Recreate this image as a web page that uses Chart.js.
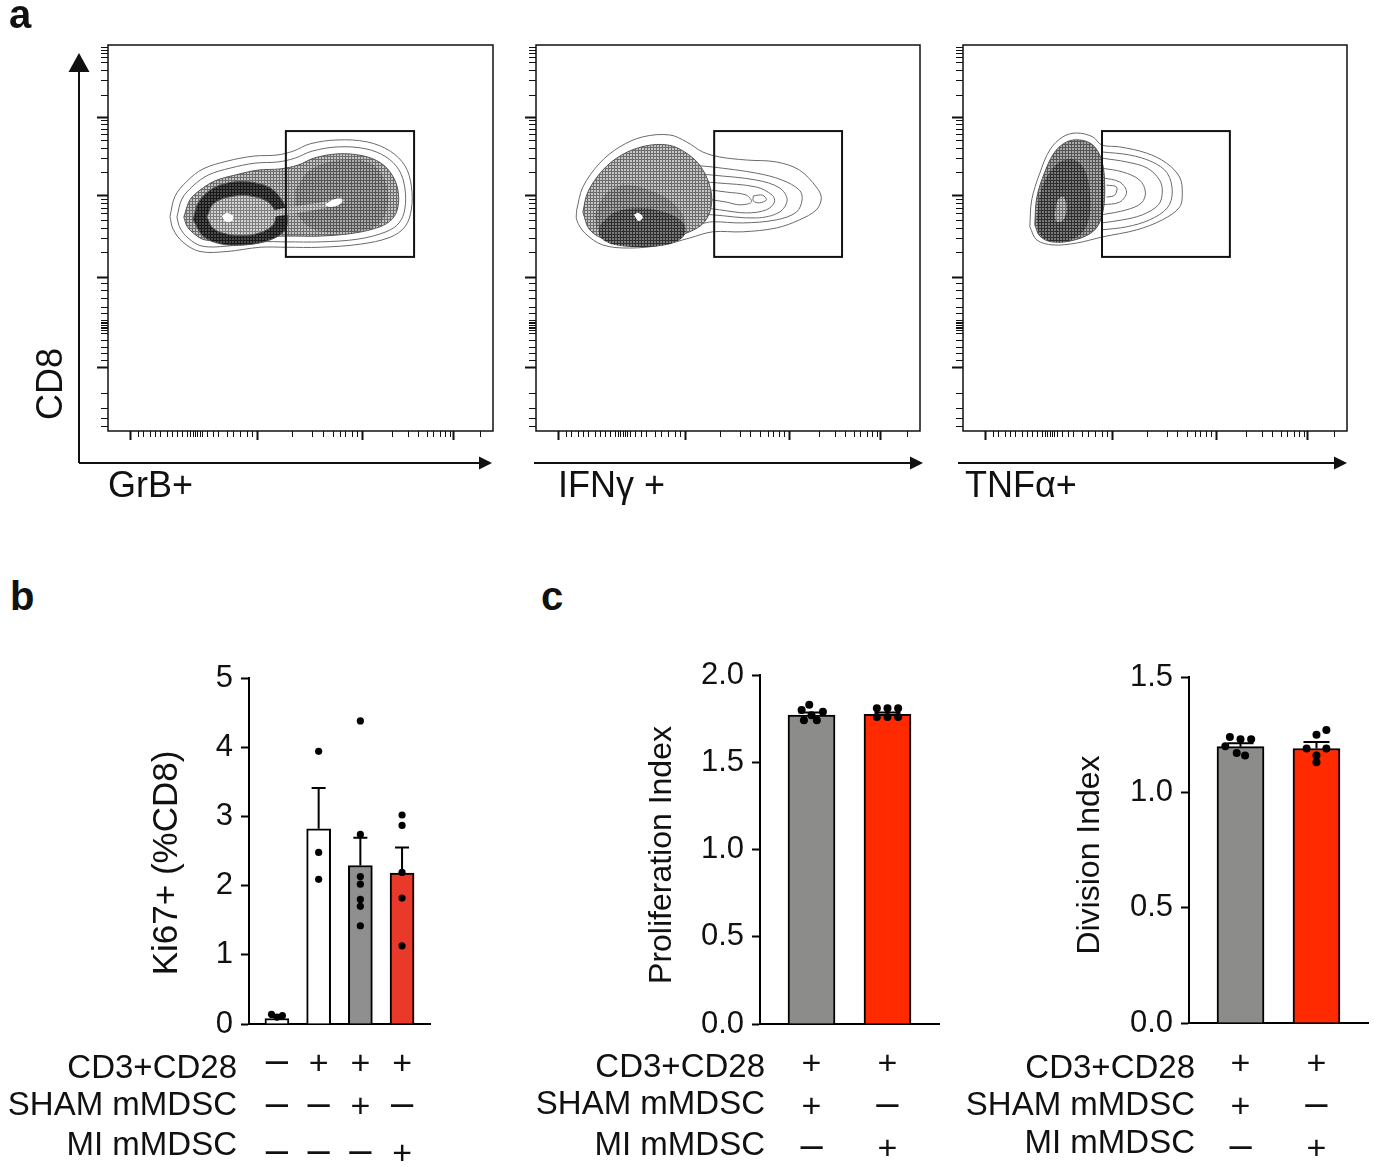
<!DOCTYPE html>
<html>
<head>
<meta charset="utf-8">
<script src="https://cdn.jsdelivr.net/npm/chart.js@4.4.1/dist/chart.umd.min.js"></script>
<style>
  body { margin: 0; background: #fff; }
  #page { position: relative; width: 1374px; height: 1167px; overflow: hidden; background: #fff;
          font-family: 'Liberation Sans', Arial, Helvetica, sans-serif; }
  canvas { position: absolute; }
  .panel { position: absolute; font-weight: bold; font-size: 40px; line-height: 1; color: #111; }
</style>
</head>
<body>
<div id="page">
  <canvas id="flowGrb" width="500" height="510" style="left:0;top:0"></canvas>
  <canvas id="flowIfn" width="430" height="510" style="left:500px;top:0"></canvas>
  <canvas id="flowTnf" width="444" height="510" style="left:930px;top:0"></canvas>
  <canvas id="kiChart" width="460" height="527" style="left:0;top:640px"></canvas>
  <canvas id="prolifChart" width="420" height="527" style="left:530px;top:640px"></canvas>
  <canvas id="divChart" width="424" height="527" style="left:950px;top:640px"></canvas>
  <div class="panel" style="left:9px;top:-6px">a</div>
  <div class="panel" style="left:10px;top:576px">b</div>
  <div class="panel" style="left:541px;top:576px">c</div>
</div>
<script>
// ---- flow plots (channel units 0..1000 on both axes) ----
// tick marks of the biexponential axes
const flowYMajor = [167, 400, 611, 814];
const flowYMinor = [13, 34, 60, 98, 184, 202, 218, 236, 254, 262, 267, 269, 275, 280, 282, 288, 306, 321, 345, 365, 383,
                    463, 501, 527, 547, 564, 578, 591, 601, 672, 708, 733, 753, 769, 783, 795, 805,
                    870, 909, 935, 956, 969, 979, 987, 995];
const flowXMajor = [57, 387, 660, 896];
const flowXMinor = [78, 91, 109, 122, 135, 153, 166, 179, 192, 205, 213, 220, 226, 232, 238, 244, 257, 273, 286, 309,
                    325, 343, 361, 374, 478, 530, 558, 584, 603, 616, 634, 647, 738, 779, 805, 829, 844, 862, 875, 888, 966];

// gates
const flowGateY = [451, 777];
const grbGateX = [462, 795];
const ifnGateX = [464, 797];
const tnfGateX = [362, 695];

// GrB contours
const grbOuter = [[161,556],[174,608],[205,647],[247,679],[309,699],[377,712],[439,715],[481,725],[525,744],[595,754],[673,749],[733,725],[772,686],[788,634],[788,575],[772,530],[733,502],[655,484],[551,476],[465,476],[395,476],[309,465],[239,465],[195,489],[169,523]];
const grbRing = [[179,554],[192,601],[221,635],[260,663],[317,681],[382,694],[441,697],[486,707],[530,725],[597,736],[670,731],[722,710],[756,676],[771,630],[771,575],[756,539],[722,516],[649,497],[551,490],[465,490],[395,490],[309,479],[244,479],[208,500],[187,526]];
const grbDense = [[197,554],[213,599],[239,624],[278,648],[330,663],[390,676],[447,679],[494,689],[535,707],[597,718],[662,713],[709,694],[738,663],[753,624],[753,580],[738,549],[706,529],[641,513],[551,505],[465,505],[395,503],[312,495],[252,495],[221,513],[205,531]];
const grbRightLobe = [[486,624],[525,676],[603,702],[680,694],[719,650],[727,586],[701,534],[628,516],[538,521],[493,560]];
const grbLobe = [[221,547],[234,591],[265,624],[312,643],[369,645],[421,630],[452,598],[465,560],[460,521],[421,495],[356,482],[291,485],[247,505]];
const grbLobeInner = [[257,554],[273,588],[312,606],[369,609],[416,593],[436,562],[426,531],[382,510],[322,508],[275,523]];
const grbStreak = [[400,565],[473,580],[551,592],[603,602],[614,594],[577,581],[499,566],[421,556]];
const grbCoreL = [[296,557],[309,565],[325,557],[322,544],[306,542]];
const grbCoreR = [[564,586],[584,599],[608,601],[603,588],[577,580]];

// IFNg contours
const ifnOuter = [[106,573],[122,632],[166,694],[218,736],[278,762],[348,767],[392,749],[434,723],[478,710],[548,702],[626,697],[686,676],[730,632],[743,604],[730,573],[686,547],[626,526],[538,516],[460,516],[400,500],[330,482],[244,474],[174,482],[127,513],[106,547]];
const ifnRing2 = [[426,687],[460,684],[574,668],[641,650],[686,624],[693,599],[678,567],[626,547],[538,539],[460,542],[426,536]];
const ifnRing3 = [[426,666],[460,663],[574,650],[634,630],[654,599],[634,567],[574,552],[460,560],[426,562]];
const ifnRing4 = [[439,645],[470,643],[574,632],[615,611],[621,593],[600,573],[548,565],[478,573],[439,578]];
const ifnRing5 = [[457,624],[496,619],[548,611],[561,593],[530,586],[496,593],[457,599]];
const ifnInner = [[566,609],[590,611],[600,599],[582,591],[566,596]];
const ifnBlob = [[122,567],[135,619],[174,676],[223,715],[283,738],[343,741],[387,723],[426,689],[452,637],[457,586],[439,542],[400,516],[330,495],[249,487],[184,495],[140,521]];
const ifnMid = [[153,560],[179,611],[231,637],[296,624],[348,598],[382,560],[387,521],[348,492],[270,482],[197,495],[161,521]];
const ifnDark = [[166,534],[205,567],[270,578],[335,567],[382,541],[387,508],[348,484],[270,477],[197,484],[166,505]];
const ifnCore = [[255,560],[267,565],[278,554],[267,544]];

// TNFa contours
const tnfOuter = [[174,529],[179,599],[200,668],[226,728],[260,762],[296,772],[338,762],[361,741],[408,736],[478,720],[530,694],[564,658],[571,619],[564,580],[519,547],[452,521],[364,503],[296,487],[234,482],[192,495]];
const tnfRing2 = [[361,723],[434,715],[493,697],[532,668],[545,619],[532,578],[486,547],[426,529],[361,521]];
const tnfRing3 = [[361,707],[426,697],[480,681],[512,650],[519,619],[509,586],[467,560],[416,547],[361,539]];
const tnfRing4 = [[361,681],[416,671],[460,650],[475,619],[465,591],[426,573],[361,560]];
const tnfRing5 = [[364,656],[408,645],[426,619],[408,593],[364,586]];
const tnfRing6 = [[374,637],[400,632],[395,611],[374,606]];
const tnfBlob = [[187,534],[192,604],[213,671],[239,723],[270,749],[304,754],[338,741],[361,702],[369,637],[364,567],[343,521],[291,495],[231,490],[200,505]];
const tnfDark = [[192,547],[200,611],[221,663],[252,697],[291,702],[317,676],[330,624],[330,560],[312,516],[265,490],[218,495],[197,516]];
const tnfCore = [[239,560],[247,599],[262,606],[270,580],[262,547],[244,542]];

// ---- bar panels ----
const conditionLabels = ['CD3+CD28', 'SHAM mMDSC', 'MI mMDSC'];

const kiMeans = [0.08, 2.82, 2.29, 2.18];
const kiSem = [0.02, 0.59, 0.40, 0.37];
const kiPoints = [[0.14, 0.12, 0.10], [3.94, 2.48, 2.09], [4.38, 2.74, 2.13, 2.02, 1.80, 1.70, 1.42], [3.02, 2.87, 2.19, 1.82, 1.13]];
const kiConditions = [['-', '+', '+', '+'], ['-', '-', '+', '-'], ['-', '-', '-', '+']];

const prolifMeans = [1.77, 1.775];
const prolifSem = [0.015, 0.01];
const prolifPoints = [[1.83, 1.80, 1.79, 1.77, 1.74, 1.74], [1.81, 1.81, 1.81, 1.76, 1.76, 1.76]];

const divisionMeans = [1.198, 1.19];
const divisionSem = [0.015, 0.028];
const divisionPoints = [[1.24, 1.23, 1.23, 1.20, 1.17, 1.16], [1.25, 1.27, 1.19, 1.19, 1.16, 1.13]];

const cConditions = [['+', '+'], ['+', '-'], ['-', '+']];

const FONT = "'Liberation Sans', Arial, Helvetica, sans-serif";
Chart.defaults.font.family = FONT;
Chart.defaults.color = '#111';

function hatch(bg, fg, step) {
    const c = document.createElement('canvas');
    c.width = c.height = step;
    const g = c.getContext('2d');
    g.fillStyle = bg;
    g.fillRect(0, 0, step, step);
    g.fillStyle = fg;
    g.fillRect(0, 0, step, 1);
    g.fillRect(0, 0, 1, step);
    return g.createPattern(c, 'repeat');
}

// contour-density textures
const shade = {
    soft: hatch('#c6c6c6', '#6c6c6c', 3),
    dense: hatch('#a8a8a8', '#555555', 3),
    mid: hatch('#7a7a7a', '#2e2e2e', 3),
    dark: hatch('#4c4c4c', '#181818', 3),
    light: hatch('#d2d2d2', '#7e7e7e', 3),
    white: '#ffffff'
};

function flowDecor(o) {
    return {
        id: 'flowDecor',
        afterDraw(chart) {
            const { ctx, chartArea: a, scales: { x, y } } = chart;
            ctx.save();
            ctx.strokeStyle = '#111';
            ctx.fillStyle = '#111';

            ctx.lineWidth = 1.5;
            ctx.strokeRect(a.left, a.top, a.right - a.left, a.bottom - a.top);

            // gate
            ctx.lineWidth = 2;
            const gx0 = x.getPixelForValue(o.gateX[0]), gx1 = x.getPixelForValue(o.gateX[1]);
            const gy0 = y.getPixelForValue(flowGateY[1]), gy1 = y.getPixelForValue(flowGateY[0]);
            ctx.strokeRect(gx0, gy0, gx1 - gx0, gy1 - gy0);

            // axis ticks
            [[flowYMajor, 11, 2], [flowYMinor, 7, 1]].forEach(([vals, len, w]) => {
                ctx.lineWidth = w;
                ctx.beginPath();
                vals.forEach(v => {
                    const p = Math.round(y.getPixelForValue(v)) + 0.5;
                    ctx.moveTo(a.left, p);
                    ctx.lineTo(a.left - len, p);
                });
                ctx.stroke();
            });
            [[flowXMajor, 9, 2], [flowXMinor, 6, 1]].forEach(([vals, len, w]) => {
                ctx.lineWidth = w;
                ctx.beginPath();
                vals.forEach(v => {
                    const p = Math.round(x.getPixelForValue(v)) + 0.5;
                    ctx.moveTo(p, a.bottom);
                    ctx.lineTo(p, a.bottom + len);
                });
                ctx.stroke();
            });

            // arrows
            const ay = a.bottom + 32;
            const tip = a.right + o.arrowTo;
            ctx.lineWidth = 2;
            ctx.beginPath();
            ctx.moveTo(a.left + o.arrowFrom, ay);
            ctx.lineTo(tip - 10, ay);
            ctx.stroke();
            ctx.beginPath();
            ctx.moveTo(tip, ay);
            ctx.lineTo(tip - 13, ay - 6.5);
            ctx.lineTo(tip - 13, ay + 6.5);
            ctx.closePath();
            ctx.fill();
            if (o.yArrow) {
                const ax = a.left - 29;
                ctx.beginPath();
                ctx.moveTo(ax, ay);
                ctx.lineTo(ax, a.top + 22);
                ctx.stroke();
                ctx.beginPath();
                ctx.moveTo(ax, a.top + 8);
                ctx.lineTo(ax - 10.5, a.top + 27);
                ctx.lineTo(ax + 10.5, a.top + 27);
                ctx.closePath();
                ctx.fill();
            }

            // labels
            ctx.font = '36px ' + FONT;
            ctx.textAlign = 'left';
            ctx.textBaseline = 'alphabetic';
            ctx.fillText(o.xLabel, a.left + o.xLabelDx, a.bottom + 66);
            if (o.yLabel) {
                ctx.translate(o.yLabelX, o.yLabelY);
                ctx.rotate(-Math.PI / 2);
                ctx.textAlign = 'center';
                ctx.textBaseline = 'middle';
                ctx.fillText(o.yLabel, 0, 0);
            }
            ctx.restore();
        }
    };
}

function flowPlot(id, layers, o) {
    new Chart(document.getElementById(id), {
        type: 'line',
        data: {
            datasets: layers.map((l, i) => {
                const pts = l.closed ? l.pts.concat([l.pts[0]]) : l.pts;
                return {
                    data: pts.map(p => ({ x: p[0], y: p[1] })),
                    borderColor: l.noLine ? 'rgba(0,0,0,0)' : (l.fill ? '#555' : '#6a6a6a'),
                    borderWidth: 1,
                    backgroundColor: l.fill ? shade[l.fill] : 'rgba(0,0,0,0)',
                    fill: l.fill ? 'shape' : false,
                    tension: 0.35,
                    pointRadius: 0,
                    order: layers.length - i
                };
            })
        },
        options: {
            responsive: false,
            animation: false,
            events: [],
            layout: { padding: o.pad },
            scales: {
                x: { type: 'linear', min: 0, max: 1000, display: false },
                y: { type: 'linear', min: 0, max: 1000, display: false }
            },
            plugins: { legend: { display: false }, tooltip: { enabled: false } }
        },
        plugins: [flowDecor(o)]
    });
}

flowPlot('flowGrb', [
    { pts: grbOuter, closed: true },
    { pts: grbRing, closed: true },
    { pts: grbDense, closed: true, fill: 'soft' },
    { pts: grbRightLobe, closed: true, fill: 'dense', noLine: true },
    { pts: grbLobe, closed: true, fill: 'dark' },
    { pts: grbLobeInner, closed: true, fill: 'light' },
    { pts: grbStreak, closed: true, fill: 'light', noLine: true },
    { pts: grbCoreL, closed: true, fill: 'white', noLine: true },
    { pts: grbCoreR, closed: true, fill: 'white', noLine: true }
], { pad: { left: 108, right: 7, top: 45, bottom: 79 }, gateX: grbGateX, xLabel: 'GrB+', xLabelDx: 0,
     arrowFrom: -29, arrowTo: -1, yArrow: true, yLabel: 'CD8', yLabelX: 52, yLabelY: 384 });

flowPlot('flowIfn', [
    { pts: ifnOuter, closed: true },
    { pts: ifnRing2 }, { pts: ifnRing3 }, { pts: ifnRing4 }, { pts: ifnRing5 },
    { pts: ifnInner, closed: true },
    { pts: ifnBlob, closed: true, fill: 'soft' },
    { pts: ifnMid, closed: true, fill: 'dense', noLine: true },
    { pts: ifnDark, closed: true, fill: 'mid', noLine: true },
    { pts: ifnCore, closed: true, fill: 'white', noLine: true }
], { pad: { left: 36, right: 10, top: 45, bottom: 79 }, gateX: ifnGateX, xLabel: 'IFN\u03B3 +', xLabelDx: 22,
     arrowFrom: -2, arrowTo: 3 });

flowPlot('flowTnf', [
    { pts: tnfOuter, closed: true },
    { pts: tnfRing2 }, { pts: tnfRing3 }, { pts: tnfRing4 }, { pts: tnfRing5 }, { pts: tnfRing6 },
    { pts: tnfBlob, closed: true, fill: 'dense' },
    { pts: tnfDark, closed: true, fill: 'mid', noLine: true },
    { pts: tnfCore, closed: true, fill: 'soft', noLine: true }
], { pad: { left: 33, right: 27, top: 45, bottom: 79 }, gateX: tnfGateX, xLabel: 'TNF\u03B1+', xLabelDx: 2,
     arrowFrom: -5, arrowTo: 0 });

// ---- bar panels ----
function barDecor(o) {
    return {
        id: 'barDecor',
        afterDatasetsDraw(chart) {
            const { ctx, scales: { x, y } } = chart;
            ctx.save();
            ctx.strokeStyle = '#000';
            ctx.lineWidth = 2;
            o.means.forEach((m, i) => {
                const px = x.getPixelForValue(i);
                const y0 = y.getPixelForValue(m), y1 = y.getPixelForValue(m + o.sem[i]);
                ctx.beginPath();
                ctx.moveTo(px, y0);
                ctx.lineTo(px, y1);
                ctx.moveTo(px - o.cap / 2, y1);
                ctx.lineTo(px + o.cap / 2, y1);
                ctx.stroke();
            });
            ctx.restore();
        },
        afterDraw(chart) {
            const { ctx, scales: { x } } = chart;
            ctx.save();
            ctx.fillStyle = '#111';
            // y title
            ctx.save();
            ctx.translate(o.titleX, o.titleY);
            ctx.rotate(-Math.PI / 2);
            ctx.font = o.titleSize + 'px ' + FONT;
            ctx.textAlign = 'center';
            ctx.textBaseline = 'middle';
            ctx.fillText(o.title, 0, 0);
            ctx.restore();
            // condition table
            conditionLabels.forEach((label, r) => {
                ctx.font = '33px ' + FONT;
                ctx.textAlign = 'right';
                ctx.textBaseline = 'alphabetic';
                ctx.fillText(label, o.labelRight, o.rowBase[r]);
                ctx.textAlign = 'center';
                o.conditions[r].forEach((s, i) => {
                    const px = x.getPixelForValue(i);
                    if (s === '+') {
                        ctx.font = '34px ' + FONT;
                        ctx.fillText('+', px, o.rowMid[r] + 12);
                    } else {
                        ctx.font = '40px ' + FONT;
                        ctx.fillText('\u2013', px, o.rowMid[r] + 11);
                    }
                });
            });
            ctx.restore();
        }
    };
}

function barPanel(id, o) {
    const dots = [];
    o.points.forEach((vals, i) => vals.forEach((v, j) => dots.push({ x: i + o.offsets[i][j], y: v })));
    new Chart(document.getElementById(id), {
        type: 'bar',
        data: {
            datasets: [
                { type: 'scatter', data: dots, pointRadius: o.dotR, pointBackgroundColor: '#000',
                  pointBorderWidth: 0, order: 0 },
                { type: 'bar', data: o.means.map((m, i) => ({ x: i, y: m })), backgroundColor: o.colors,
                  borderColor: '#000', borderWidth: 2, barThickness: o.barW, order: 1 }
            ]
        },
        options: {
            responsive: false,
            animation: false,
            events: [],
            layout: { padding: { left: 0, top: o.top, right: o.right, bottom: o.bottom } },
            scales: {
                x: { type: 'linear', min: o.xMin, max: o.xMax, offset: false,
                     ticks: { display: false }, grid: { display: false, drawTicks: false },
                     border: { display: true, color: '#000', width: 2 } },
                y: { type: 'linear', min: 0, max: o.yMax,
                     afterFit: s => { s.width = o.axisLeft; },
                     ticks: { stepSize: o.step, padding: 8, color: '#111', font: { size: 31 },
                              callback: v => o.step < 1 ? v.toFixed(1) : String(v) },
                     grid: { drawOnChartArea: false, tickLength: 8, tickWidth: 2, tickColor: '#000' },
                     border: { display: true, color: '#000', width: 2 } }
            },
            plugins: { legend: { display: false }, tooltip: { enabled: false } }
        },
        plugins: [barDecor(o)]
    });
}

barPanel('kiChart', {
    means: kiMeans, sem: kiSem, points: kiPoints, conditions: kiConditions,
    offsets: [[-0.13, 0.13, 0], [0, 0, 0], [0, 0, 0, 0, 0, 0, 0], [0, 0, 0, 0, 0]],
    colors: ['#ffffff', '#ffffff', '#8f8f8f', '#e8392a'],
    dotR: 3.6, barW: 24, cap: 14, yMax: 5, step: 1,
    xMin: -0.67, xMax: 3.67, axisLeft: 249, top: 38, right: 30, bottom: 143,
    title: 'Ki67+ (%CD8)', titleSize: 35, titleX: 167, titleY: 223,
    labelRight: 237, rowBase: [438, 475, 515], rowMid: [422, 465, 512]
});

barPanel('prolifChart', {
    means: prolifMeans, sem: prolifSem, points: prolifPoints, conditions: cConditions,
    offsets: [[-0.03, -0.13, 0.15, 0, -0.1, 0.07], [-0.14, 0, 0.14, -0.14, 0, 0.14]],
    colors: ['#8c8c8a', '#ff2a00'],
    dotR: 4, barW: 47, cap: 26, yMax: 2, step: 0.5,
    xMin: -0.678, xMax: 1.678, axisLeft: 230, top: 35, right: 11, bottom: 143,
    title: 'Proliferation Index', titleSize: 32, titleX: 132, titleY: 215,
    labelRight: 235, rowBase: [437, 474, 515], rowMid: [422, 465, 507]
});

barPanel('divChart', {
    means: divisionMeans, sem: divisionSem, points: divisionPoints, conditions: cConditions,
    offsets: [[-0.14, 0, 0.14, -0.2, -0.05, 0.06], [0, 0.13, -0.13, 0.13, 0, 0]],
    colors: ['#8c8c8a', '#ff2a00'],
    dotR: 4, barW: 47, cap: 26, yMax: 1.5, step: 0.5,
    xMin: -0.678, xMax: 1.678, axisLeft: 239, top: 37, right: 6, bottom: 144,
    title: 'Division Index', titleSize: 32, titleX: 140, titleY: 215,
    labelRight: 245, rowBase: [438, 475, 513], rowMid: [422, 465, 507]
});
</script>
</body>
</html>
